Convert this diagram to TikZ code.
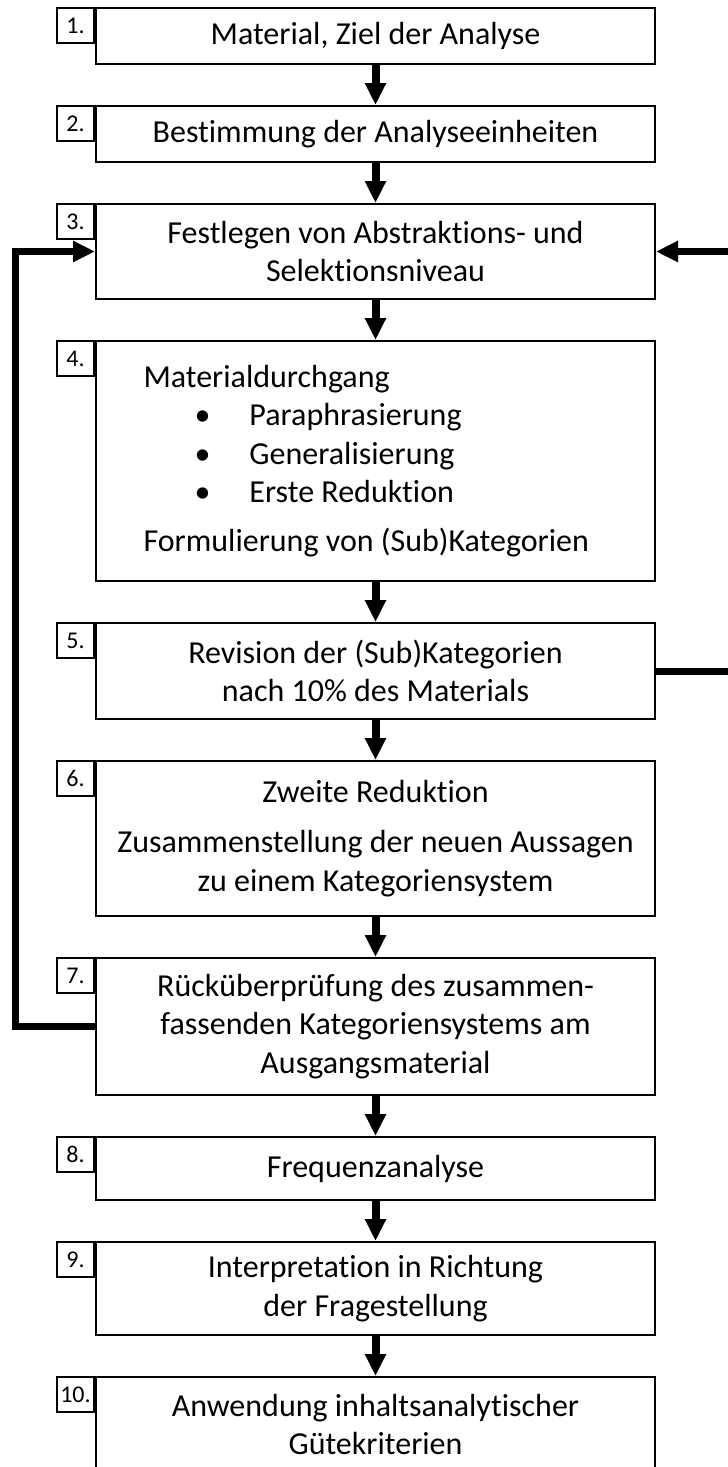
\documentclass[tikz,border=0pt]{standalone}
\usepackage{fontspec}
\setmainfont{Carlito}[Ligatures=NoCommon]
\usetikzlibrary{arrows.meta, positioning}

\tikzset{
  stepbox/.style = {draw, line width = 1pt, minimum width = 279.5pt, align = center,
                    inner sep = 3pt, font = \fontsize{16pt}{19.3pt}\selectfont},
  numbox/.style  = {draw, line width = 1pt, minimum width = 18.5pt, minimum height = 17.5pt,
                    inner sep = 0pt, anchor = north east, font = \fontsize{12pt}{14pt}\selectfont},
  flow/.style    = {line width = 4pt, -{Triangle[length = 11pt, width = 10pt]}},
  back/.style    = {line width = 3.5pt, -{Triangle[length = 11pt, width = 10pt]}}
}

\begin{document}
\begin{tikzpicture} [node distance = 20pt, x = 0.5pt, y = -0.5pt]
\useasboundingbox (0,0) rectangle (728,1467);

% steps of the analysis
\node (s1) [stepbox, minimum height = 28pt] at (375.5,36) {Material, Ziel der Analyse};
\node (s2) [stepbox, minimum height = 28pt, below = of s1] {Bestimmung der Analyseeinheiten};
\node (s3) [stepbox, minimum height = 47.5pt, below = of s2] {Festlegen von Abstraktions- und\\Selektionsniveau};
\node (s4) [stepbox, minimum height = 120pt, below = of s3, align = flush left,
            text width = 232pt, inner xsep = 23.75pt]
  {Materialdurchgang\\
   \hspace*{29.5pt}\makebox[0pt]{•}\hspace*{23.5pt}Paraphrasierung\\
   \hspace*{29.5pt}\makebox[0pt]{•}\hspace*{23.5pt}Generalisierung\\
   \hspace*{29.5pt}\makebox[0pt]{•}\hspace*{23.5pt}Erste Reduktion\\[5pt]
   Formulierung von (Sub)Kategorien};
\node (s5) [stepbox, minimum height = 48pt, below = of s4] {Revision der (Sub)Kategorien\\nach 10\% des Materials};
\node (s6) [stepbox, minimum height = 77.5pt, below = of s5]
  {Zweite Reduktion\\[6pt]Zusammenstellung der neuen Aussagen\\zu einem Kategoriensystem};
\node (s7) [stepbox, minimum height = 68.5pt, below = of s6]
  {Rücküberprüfung des zusammen-\\fassenden Kategoriensystems am\\Ausgangsmaterial};
\node (s8) [stepbox, minimum height = 31.5pt, below = of s7] {Frequenzanalyse};
\node (s9) [stepbox, minimum height = 46.5pt, below = of s8] {Interpretation in Richtung\\der Fragestellung};
\node (s10) [stepbox, minimum height = 47.5pt, below = of s9] {Anwendung inhaltsanalytischer\\Gütekriterien};

% numbers
\foreach \i in {1,...,10}
  \node (n\i) [numbox] at (s\i.north west) {\i.};

\coordinate (lft) at (15,0);
\coordinate (rgt) at (745,0);

\path [flow]
  (s1) edge (s2)
  (s2) edge (s3)
  (s3) edge (s4)
  (s4) edge (s5)
  (s5) edge (s6)
  (s6) edge (s7)
  (s7) edge (s8)
  (s8) edge (s9)
  (s9) edge (s10);

% feedback loops
\draw [back] (s7.west) -- (s7.west -| lft) |- (s3.west);
\draw [back] (s5.east) -- (s5.east -| rgt) |- (s3.east);
\end{tikzpicture}
\end{document}
